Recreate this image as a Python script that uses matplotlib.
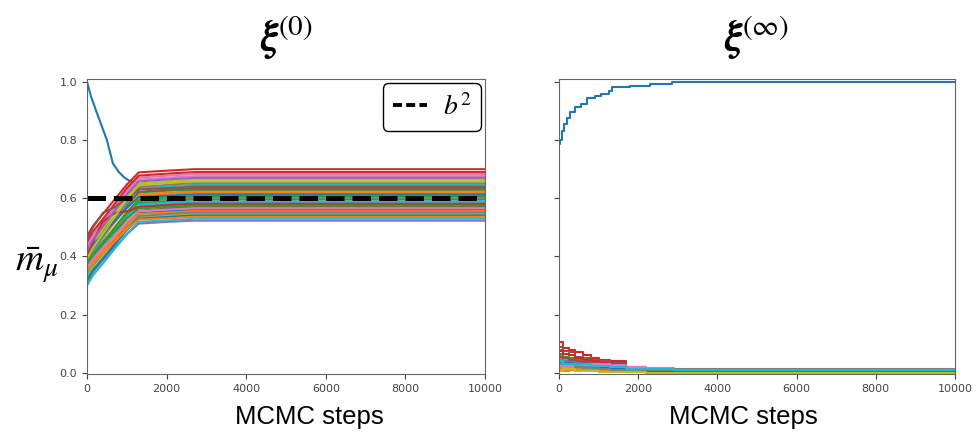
import numpy as np
import matplotlib
matplotlib.use("Agg")
import matplotlib.pyplot as plt
from matplotlib.lines import Line2D

plt.rcParams['mathtext.fontset'] = 'stix'

# ---- left panel: xi^(0) ----
steps_left = [0, 150, 400, 700, 1000, 1300, 2150, 2700, 10000]

steps_left_main = [0, 100, 250, 500, 650, 800, 950, 1150, 1500, 2150, 2700, 10000]
left_main = [1.0, 0.95, 0.893, 0.80, 0.72, 0.69, 0.67, 0.653, 0.64, 0.63, 0.625, 0.625]

left_chains = [
    [0.40, 0.434, 0.474, 0.523, 0.572, 0.613, 0.620, 0.624, 0.624],
    [0.42, 0.452, 0.489, 0.536, 0.582, 0.620, 0.627, 0.630, 0.630],
    [0.47, 0.505, 0.546, 0.597, 0.647, 0.689, 0.696, 0.700, 0.700],
    [0.35, 0.385, 0.428, 0.479, 0.531, 0.573, 0.581, 0.585, 0.585],
    [0.38, 0.418, 0.464, 0.520, 0.576, 0.622, 0.632, 0.635, 0.635],
    [0.44, 0.476, 0.520, 0.574, 0.627, 0.671, 0.679, 0.683, 0.683],
    [0.36, 0.396, 0.440, 0.493, 0.546, 0.590, 0.598, 0.602, 0.602],
    [0.41, 0.448, 0.494, 0.550, 0.606, 0.651, 0.660, 0.664, 0.664],
    [0.37, 0.411, 0.461, 0.522, 0.583, 0.632, 0.642, 0.646, 0.646],
    [0.33, 0.365, 0.406, 0.457, 0.508, 0.549, 0.557, 0.561, 0.561],
    [0.39, 0.425, 0.466, 0.517, 0.567, 0.609, 0.616, 0.620, 0.620],
    [0.34, 0.378, 0.424, 0.481, 0.537, 0.583, 0.592, 0.596, 0.596],
    [0.45, 0.486, 0.529, 0.582, 0.635, 0.678, 0.686, 0.690, 0.690],
    [0.32, 0.350, 0.387, 0.432, 0.476, 0.513, 0.520, 0.523, 0.523],
    [0.31, 0.349, 0.396, 0.453, 0.510, 0.557, 0.566, 0.570, 0.570],
    [0.43, 0.467, 0.511, 0.565, 0.619, 0.664, 0.672, 0.676, 0.676],
    [0.38, 0.421, 0.470, 0.530, 0.589, 0.638, 0.648, 0.652, 0.652],
    [0.33, 0.362, 0.401, 0.449, 0.496, 0.535, 0.542, 0.546, 0.546],
    [0.34, 0.378, 0.423, 0.478, 0.533, 0.578, 0.586, 0.590, 0.590],
    [0.41, 0.441, 0.477, 0.522, 0.567, 0.604, 0.610, 0.614, 0.614],
    [0.35, 0.381, 0.418, 0.463, 0.509, 0.546, 0.552, 0.556, 0.556],
    [0.37, 0.406, 0.449, 0.501, 0.553, 0.596, 0.604, 0.608, 0.608],
    [0.40, 0.450, 0.520, 0.550, 0.555, 0.570, 0.577, 0.580, 0.580],
    [0.42, 0.458, 0.503, 0.558, 0.613, 0.658, 0.666, 0.670, 0.670],
    [0.46, 0.500, 0.550, 0.570, 0.600, 0.630, 0.636, 0.640, 0.640],
    [0.36, 0.391, 0.428, 0.473, 0.519, 0.556, 0.562, 0.566, 0.566],
    [0.31, 0.346, 0.390, 0.443, 0.496, 0.539, 0.547, 0.551, 0.551],
    [0.39, 0.430, 0.478, 0.537, 0.596, 0.645, 0.654, 0.658, 0.658],
    [0.30, 0.335, 0.376, 0.427, 0.477, 0.519, 0.525, 0.530, 0.530],
    [0.32, 0.353, 0.393, 0.442, 0.490, 0.530, 0.537, 0.541, 0.541],
    [0.35, 0.378, 0.411, 0.452, 0.493, 0.527, 0.532, 0.536, 0.536],
    [0.38, 0.409, 0.444, 0.487, 0.530, 0.565, 0.571, 0.575, 0.575],
]

b_squared = 0.6

# ---- right panel: xi^(inf) ----
steps_right_main = [0, 30, 70, 130, 200, 280, 400, 550, 700, 900, 1050, 1250,
                    1350, 1800, 2300, 2850, 10000]
right_main = [0.785, 0.80, 0.83, 0.855, 0.875, 0.895, 0.915, 0.925, 0.945, 0.95,
              0.96, 0.97, 0.983, 0.985, 0.992, 1.0, 1.0]

steps_right = [0, 100, 250, 400, 600, 800, 1000, 1300, 1700, 2200, 2900, 10000]
right_chains = [
    [0.050, 0.045, 0.040, 0.030, 0.032, 0.025, 0.022, 0.020, 0.012, 0.008, 0.006, 0.006],
    [0.080, 0.065, 0.060, 0.045, 0.040, 0.035, 0.030, 0.025, 0.012, 0.006, 0.004, 0.004],
    [0.105, 0.085, 0.080, 0.070, 0.060, 0.050, 0.045, 0.040, 0.020, 0.010, 0.002, 0.002],
    [0.030, 0.032, 0.030, 0.025, 0.022, 0.020, 0.018, 0.015, 0.008, 0.003, 0.001, 0.001],
    [0.090, 0.075, 0.070, 0.055, 0.050, 0.045, 0.040, 0.035, 0.015, 0.008, 0.005, 0.005],
    [0.020, 0.022, 0.025, 0.030, 0.028, 0.030, 0.030, 0.025, 0.020, 0.012, 0.008, 0.008],
    [0.060, 0.050, 0.045, 0.040, 0.035, 0.030, 0.028, 0.020, 0.015, 0.012, 0.012, 0.012],
    [0.010, 0.015, 0.015, 0.010, 0.010, 0.008, 0.006, 0.005, 0.003, 0.002, 0.000, 0.000],
    [0.030, 0.035, 0.035, 0.025, 0.028, 0.030, 0.025, 0.020, 0.012, 0.012, 0.010, 0.010],
    [0.040, 0.038, 0.035, 0.030, 0.028, 0.025, 0.020, 0.015, 0.010, 0.007, 0.005, 0.005],
    [0.015, 0.008, 0.010, 0.012, 0.010, 0.010, 0.008, 0.008, 0.004, 0.003, 0.002, 0.002],
    [0.065, 0.055, 0.050, 0.040, 0.035, 0.030, 0.025, 0.020, 0.010, 0.005, 0.003, 0.003],
    [0.075, 0.065, 0.060, 0.050, 0.045, 0.040, 0.035, 0.030, 0.010, 0.004, 0.000, 0.000],
    [0.045, 0.042, 0.040, 0.035, 0.033, 0.030, 0.028, 0.025, 0.018, 0.010, 0.006, 0.006],
    [0.055, 0.050, 0.045, 0.040, 0.038, 0.035, 0.030, 0.025, 0.015, 0.010, 0.007, 0.007],
    [0.025, 0.018, 0.020, 0.025, 0.028, 0.030, 0.030, 0.028, 0.020, 0.015, 0.009, 0.009],
    [0.035, 0.032, 0.030, 0.020, 0.018, 0.015, 0.012, 0.010, 0.008, 0.010, 0.011, 0.011],
    [0.005, 0.012, 0.012, 0.008, 0.006, 0.005, 0.004, 0.003, 0.002, 0.001, 0.001, 0.001],
    [0.040, 0.032, 0.030, 0.028, 0.030, 0.025, 0.022, 0.020, 0.012, 0.013, 0.009, 0.009],
]

titles = [r'$\boldsymbol{\xi}^{(0)}$', r'$\boldsymbol{\xi}^{(\infty)}$']
xlabel = "MCMC steps"
ylabel = r'$\bar{m}_\mu$'
xticks = [0, 2000, 4000, 6000, 8000, 10000]
yticks = [0.0, 0.2, 0.4, 0.6, 0.8, 1.0]

fig = plt.figure(figsize=(9.76, 4.37), dpi=100)
ax1 = fig.add_axes([87/976, 1-374/437, 398/976, 295/437])
ax2 = fig.add_axes([559/976, 1-374/437, 396/976, 295/437], sharey=ax1)

# left
ax1.plot(steps_left_main, left_main, lw=1.5)
for ch in left_chains:
    ax1.plot(steps_left, ch, lw=1.5)
ax1.plot([0, 10000], [b_squared, b_squared], color='black', ls='--', lw=3.6)
proxy = Line2D([], [], color='black', lw=2.8, dashes=(2.3, 1.1))
leg = ax1.legend([proxy], [r'$b^2$'], loc='upper right', fontsize=20,
                 fancybox=True, framealpha=1, edgecolor='black',
                 borderaxespad=0.15, handlelength=1.25, handletextpad=0.55,
                 borderpad=0.35)
leg.get_frame().set_linewidth(1.0)

# right
ax2.plot(steps_right_main, right_main, lw=1.5, drawstyle='steps-post')
for ch in right_chains:
    ax2.plot(steps_right, ch, lw=1.5, drawstyle='steps-post')

for ax, t in zip([ax1, ax2], titles):
    ax.set_xlim(0, 10000)
    ax.set_ylim(-0.004, 1.01)
    ax.set_xticks(xticks)
    ax.set_yticks(yticks)
    ax.tick_params(labelsize=8, colors='#444444', length=3.5)
    for sp in ax.spines.values():
        sp.set_color('#666666')
    ax.set_title(t, fontsize=30, pad=20)
ax2.tick_params(labelleft=False)

fig.text(37/976, 1-265/437, ylabel, fontsize=28, ha='center', va='center')
fig.text(309/976, 1-417/437, xlabel, fontsize=18.5, ha='center', va='center',
         family='Liberation Sans')
fig.text(743/976, 1-417/437, xlabel, fontsize=18.5, ha='center', va='center',
         family='Liberation Sans')

fig.savefig("out.png", dpi=100)
